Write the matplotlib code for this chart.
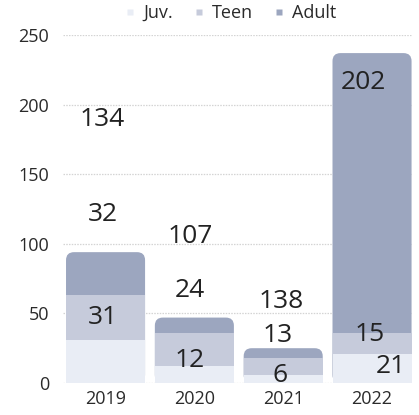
import matplotlib
matplotlib.use("Agg")
import matplotlib.pyplot as plt
from matplotlib.patches import FancyBboxPatch
from matplotlib.lines import Line2D
import numpy as np

plt.rcParams['font.family'] = ['Open Sans', 'DejaVu Sans']

years = ["2019", "2020", "2021", "2022"]
series = ["Juv.", "Teen", "Adult"]
juv = [31, 12, 6, 21]
teen = [32, 24, 12, 15]
adult = [31, 11, 7, 201]
yticks = [0, 50, 100, 150, 200, 250]

# printed value labels (as shown in the picture)
juv_labels = [31, 12, 6, 21]
teen_labels = [32, 24, 13, 15]
adult_labels = [134, 107, 138, 202]

# label placement (annotation positions)
juv_label_pos = [(-0.03, 46.7), (0.95, 16.5), (1.96, 5.5), (3.21, 12.2)]
teen_label_pos = [(-0.03, 120.7), (0.95, 66.8), (1.94, 33.8), (2.97, 34.5)]
adult_label_pos = [(-0.04, 189.0), (0.95, 104.9), (1.98, 58.9), (2.90, 215.9)]

colors = ["#e9edf5", "#c6cbdb", "#9ca6bf"]

W, H = 419, 415
fig = plt.figure(figsize=(W / 100, H / 100), dpi=100)
ax = fig.add_axes([63 / W, (H - 383) / H, (412 - 63) / W, (383 - 35) / H])

x = np.arange(len(years))
width = 0.89
juv_a = np.array(juv)
teen_a = np.array(teen)
adult_a = np.array(adult)
totals = juv_a + teen_a + adult_a

ax.set_xlim(-0.479, 3.45)
ax.set_ylim(0, 250)

# gridlines
for yv in yticks:
    ax.axhline(yv, color="#d4d4d4", lw=0.9, ls=(0, (1.2, 1.0)), zorder=0)

# adult segments: drawn as rounded full-height bars behind the lower segments
bars_top = ax.bar(x, totals, width=width, color=colors[2], zorder=1)
px_per_x = (412 - 63) / (3.45 + 0.479)
px_per_y = (383 - 35) / 250
r_px = 8
rx = r_px / px_per_x
aspect = (r_px / px_per_y) / rx
for rect in bars_top:
    fb = FancyBboxPatch((rect.get_x(), rect.get_y()), rect.get_width(), rect.get_height(),
                        boxstyle=f"round,pad=0,rounding_size={rx}",
                        mutation_aspect=aspect, facecolor=colors[2],
                        edgecolor="none", zorder=1)
    ax.add_patch(fb)
    rect.set_visible(False)

ax.bar(x, juv_a, width=width, color=colors[0], zorder=2)
ax.bar(x, teen_a, width=width, bottom=juv_a, color=colors[1], zorder=2)

# value labels
for labels, pos in ((juv_labels, juv_label_pos), (teen_labels, teen_label_pos),
                    (adult_labels, adult_label_pos)):
    for val, (lx, ly) in zip(labels, pos):
        ax.text(lx, ly, str(val), ha="center", va="center", fontsize=19,
                color="#222222", zorder=5, clip_on=False)

ax.set_xticks(x)
ax.set_xticklabels(years)
ax.set_yticks(yticks)
ax.tick_params(axis="both", length=0, labelsize=13, colors="#2a2a2a")
ax.tick_params(axis="x", pad=5)
ax.tick_params(axis="y", pad=10)
for s in ax.spines.values():
    s.set_visible(False)

handles = [Line2D([0], [0], marker="s", color="none", markerfacecolor=c,
                  markeredgecolor="none", markersize=5) for c in colors]
fig.legend(handles, series, loc="center", bbox_to_anchor=(230 / W, 1 - 13 / H),
           ncol=3, frameon=False, fontsize=13, handlelength=0.7,
           handletextpad=0.35, columnspacing=1.1, labelcolor="#2a2a2a")

fig.savefig("out.png", dpi=100)
